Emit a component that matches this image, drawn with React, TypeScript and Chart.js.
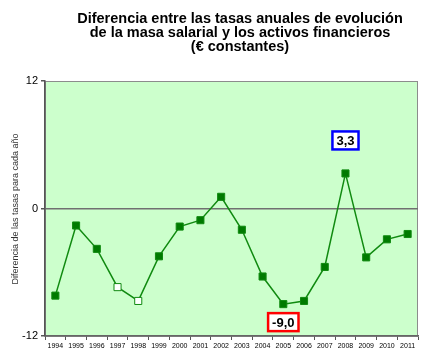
import React, { useEffect, useRef } from "react";
import { Chart, registerables } from "chart.js";

Chart.register(...registerables);

const years = ["1994","1995","1996","1997","1998","1999","2000","2001","2002","2003","2004","2005","2006","2007","2008","2009","2010","2011"];
const values = [-8.2,-1.6,-3.8,-7.4,-8.7,-4.5,-1.7,-1.1,1.1,-2.0,-6.4,-9.0,-8.7,-5.5,3.3,-4.6,-2.9,-2.4];
const hollowYears = ["1997","1998"];
const titleLines = ["Diferencia entre las tasas anuales de evolución","de la masa salarial y los activos financieros","(€ constantes)"];
const yAxisTitle = "Diferencia de las tasas para cada año";
const yTicks = [-12, 0, 12];
const callouts = [
  { year: "2008", value: 3.3, label: "3,3", color: "#0000FF", dy: -33 },
  { year: "2005", value: -9.0, label: "-9,0", color: "#FF0000", dy: 18 },
];

const FONT = "'Liberation Sans', Arial, sans-serif";

export default function App() {
  const ref = useRef<HTMLCanvasElement>(null);
  useEffect(() => {
    const canvas = ref.current!;
    const decor = {
      id: "decor",
      beforeDraw(chart: any) {
        const { ctx, chartArea: a } = chart;
        ctx.save();
        ctx.fillStyle = "#CCFFCC";
        ctx.fillRect(a.left, a.top, a.right - a.left, a.bottom - a.top);
        ctx.strokeStyle = "#8C8C8C";
        ctx.lineWidth = 1;
        ctx.strokeRect(a.left + 0.5, a.top + 0.5, a.right - a.left - 1, a.bottom - a.top);
        ctx.restore();
      },
      afterDraw(chart: any) {
        const { ctx } = chart;
        ctx.save();
        ctx.fillStyle = "#000";
        ctx.font = `bold 14.5px ${FONT}`;
        ctx.textAlign = "center";
        ctx.textBaseline = "middle";
        titleLines.forEach((t, i) => ctx.fillText(t, 240, 18.5 + i * 14.3));
        ctx.save();
        ctx.translate(15.5, 209);
        ctx.rotate(-Math.PI / 2);
        ctx.font = `9px ${FONT}`;
        ctx.fillStyle = "#333";
        ctx.fillText(yAxisTitle, 0, 0);
        ctx.restore();
        const xs = chart.scales.x, ys = chart.scales.y;
        callouts.forEach((c) => {
          const x = xs.getPixelForValue(years.indexOf(c.year));
          const y = ys.getPixelForValue(c.value) + c.dy;
          ctx.font = `bold 13px ${FONT}`;
          const w = ctx.measureText(c.label).width + 8;
          const h = 18;
          ctx.fillStyle = "#fff";
          ctx.fillRect(x - w / 2, y - h / 2, w, h);
          ctx.strokeStyle = c.color;
          ctx.lineWidth = 2.5;
          ctx.strokeRect(x - w / 2, y - h / 2, w, h);
          ctx.fillStyle = "#000";
          ctx.fillText(c.label, x, y + 1);
        });
        ctx.restore();
      },
    };
    const chart = new Chart(canvas, {
      type: "line",
      data: {
        labels: years,
        datasets: [
          {
            data: values,
            borderColor: "#108A10",
            borderWidth: 1.5,
            pointStyle: "rect",
            pointRadius: 5,
            pointBorderWidth: 1,
            pointBorderColor: "#108A10",
            pointBackgroundColor: years.map((y) => (hollowYears.includes(y) ? "#FFFFFF" : "#007A00")),
            tension: 0,
          },
        ],
      },
      options: {
        animation: false,
        responsive: false,
        layout: { padding: { top: 81, right: 8, left: 0, bottom: 0 } },
        plugins: { legend: { display: false }, tooltip: { enabled: false } },
        scales: {
          x: {
            offset: true,
            grid: { display: true, offset: true, color: "transparent", tickColor: "#555", tickLength: 4, drawOnChartArea: false },
            border: { color: "#666", width: 1.5 },
            ticks: { font: { family: FONT, size: 7 }, color: "#000", maxRotation: 0, autoSkip: false, padding: 2 },
            afterFit: (s: any) => { s.height = 24; },
          },
          y: {
            min: -12,
            max: 12,
            afterBuildTicks: (s: any) => { s.ticks = yTicks.map((v) => ({ value: v })); },
            grid: {
              color: (c: any) => (c.tick && c.tick.value === 0 ? "#707070" : "transparent"),
              lineWidth: 1.5,
              tickColor: "#555",
              tickLength: 4,
            },
            border: { color: "#555", width: 1.5 },
            ticks: { font: { family: FONT, size: 11 }, color: "#000", padding: 3 },
            afterFit: (s: any) => { s.width = 45; },
          },
        },
      },
      plugins: [decor],
    });
    return () => chart.destroy();
  }, []);
  return (
    <div style={{ position: "fixed", left: 0, top: 0, width: 426, height: 360, background: "#fff" }}>
      <canvas ref={ref} width={426} height={360} style={{ width: 426, height: 360 }} />
    </div>
  );
}
